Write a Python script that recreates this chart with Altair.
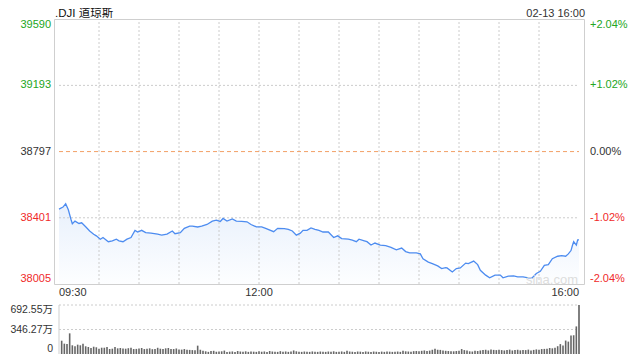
import altair as alt
import pandas as pd

# ---- data ----
minutes = [0, 3, 5, 7, 9, 10, 12, 15, 17, 20, 23, 26, 28, 31, 33, 37, 40, 43, 45, 48,
           51, 54, 57, 59, 62, 65, 69, 74, 77, 81, 85, 87, 91, 94, 98, 100, 104, 107, 111, 115,
           118, 121, 123, 126, 130, 133, 137, 141, 144, 148, 152, 155, 161, 164, 169, 172, 175, 178, 181, 183,
           186, 189, 192, 195, 198, 202, 206, 209, 212, 217, 220, 223, 225, 229, 231, 234, 237, 241, 245, 249,
           253, 257, 260, 263, 268, 271, 273, 277, 280, 284, 287, 290, 291, 295, 298, 301, 305, 307, 311, 314,
           316, 320, 323, 327, 331, 333, 337, 341, 344, 348, 352, 355, 358, 361, 364, 367, 370, 374, 377, 380,
           382, 384, 385, 386, 388, 389, 390]
prices = [38453, 38465, 38485, 38449, 38391, 38365, 38381, 38367, 38371, 38347, 38322, 38303, 38293, 38273, 38283, 38258, 38263, 38273, 38263, 38258,
          38273, 38283, 38326, 38316, 38326, 38312, 38309, 38303, 38297, 38303, 38322, 38306, 38312, 38338, 38351, 38351, 38346, 38351, 38361, 38381,
          38387, 38379, 38397, 38381, 38394, 38381, 38379, 38377, 38361, 38347, 38347, 38338, 38318, 38338, 38336, 38332, 38322, 38297, 38309, 38326,
          38326, 38340, 38332, 38326, 38316, 38316, 38283, 38293, 38277, 38273, 38267, 38258, 38273, 38263, 38258, 38238, 38250, 38238, 38234, 38224,
          38209, 38220, 38199, 38191, 38191, 38185, 38156, 38136, 38127, 38113, 38097, 38103, 38101, 38077, 38097, 38101, 38130, 38127, 38142, 38121,
          38087, 38058, 38042, 38058, 38058, 38042, 38052, 38054, 38048, 38048, 38042, 38042, 38068, 38081, 38117, 38121, 38156, 38171, 38175, 38171,
          38185, 38205, 38234, 38258, 38238, 38269, 38269]

volumes = [188, 146, 141, 292, 123, 109, 132, 123, 146, 109, 99, 85, 103, 95, 75, 89, 89, 99, 71, 75,
           99, 80, 85, 78, 75, 82, 90, 70, 72, 78, 85, 70, 75, 80, 68, 72, 88, 75, 70, 80,
           85, 72, 70, 78, 65, 62, 70, 60, 58, 55, 52, 118,
           60, 45, 38, 30, 42, 45, 32, 35, 38, 48, 30, 33, 36, 30, 42, 35, 32, 38, 30, 35, 33, 30, 38, 32,
           36, 30, 42, 35, 33, 30, 40, 32, 36, 30, 35, 50, 38, 32, 30, 35, 33, 30, 36, 32, 30, 35,
           32, 30, 35, 33, 38, 30, 32, 36, 30, 45, 35, 32, 30, 35, 33, 30, 36, 32, 30, 35, 32, 30, 34, 30,
           36, 33, 30, 32, 35, 30, 45, 38, 35, 33, 40, 42, 38, 45, 50, 42, 48, 60,
           75, 60, 58, 50, 45, 42, 40, 38, 42, 45, 70, 55, 50, 38, 35, 45, 42, 50, 55, 60, 50, 65, 58, 55, 60,
           55, 50, 58, 62, 50, 55, 60, 52, 58, 55, 62, 50, 58, 65, 60, 70, 72, 75, 85, 80,
           90, 110, 140, 120, 190, 175, 260, 265, 390, 692.55]

price_ticks = [39590, 39193, 38797, 38401, 38005]
price_labels = ["39590", "39193", "38797", "38401", "38005"]
pct_labels = ["+2.04%", "+1.02%", "0.00%", "-1.02%", "-2.04%"]
tick_colors = ["#22a622", "#22a622", "#333333", "#f02a2a", "#f02a2a"]
grid_minutes = [30, 60, 90, 120, 150, 180, 210, 240, 270, 300, 330, 360]
time_ticks = [0, 150, 390]
time_labels = ["09:30", "12:00", "16:00"]
time_align = ["left", "center", "right"]
vol_ticks = [692.55, 346.27, 0]
vol_labels = ["692.55万", "346.27万", "0"]
prev_close = 38797
title_text = ".DJI 道琼斯"
date_text = "02-13 16:00"

FONT = "Liberation Sans, 'Noto Sans CJK SC', sans-serif"
P_DOM = [38005, 39590]
V_DOM = [0, 692.55]
V_RANGE = [335, 286]

HIDE = alt.Axis(labels=False, ticks=False, domain=False, grid=False, title=None)
xs = alt.Scale(domain=[0, 390], nice=False, zero=False)
ys = alt.Scale(domain=P_DOM, nice=False, zero=False)
vs = alt.Scale(domain=V_DOM, range=V_RANGE, nice=False, zero=False)

def X(f):
    return alt.X(f, scale=xs, axis=HIDE)

def YP(f):
    return alt.Y(f, scale=ys, axis=HIDE)

def YV(f):
    return alt.Y(f, scale=vs, axis=HIDE)

price_df = pd.DataFrame({"minute": minutes, "price": prices})
vol_n = len(volumes)
vol_df = pd.DataFrame({"minute": [390 - 2 * (vol_n - 1 - i) for i in range(vol_n)], "vol": volumes})
vol_df["base"] = 0
ticks_df = pd.DataFrame({"price": price_ticks, "label": price_labels, "pct": pct_labels, "color": tick_colors})
grid_df = pd.DataFrame({"minute": grid_minutes, "price": [P_DOM[0]] * len(grid_minutes), "top": [P_DOM[1]] * len(grid_minutes)})
hgrid_df = pd.DataFrame({"price": [39193, 38401], "minute": [0, 0], "end": [390, 390]})
time_df = pd.DataFrame({"minute": time_ticks, "label": time_labels, "align": time_align})

# ---- main price panel ----
vgrid = alt.Chart(grid_df).mark_rule(color="#cccccc", strokeDash=[2, 2], strokeWidth=1).encode(
    x=X("minute:Q"), y=YP("price:Q"), y2="top:Q")
hgrid = alt.Chart(hgrid_df).mark_rule(color="#cccccc", strokeDash=[2, 2], strokeWidth=1).encode(
    x=X("minute:Q"), x2="end:Q", y=YP("price:Q"))
prev_rule = alt.Chart(pd.DataFrame({"price": [prev_close], "minute": [0], "end": [390]})).mark_rule(
    color="#f2a066", strokeDash=[4, 3], strokeWidth=1).encode(x=X("minute:Q"), x2="end:Q", y=YP("price:Q"))

area = alt.Chart(price_df).mark_area(
    color=alt.Gradient(gradient="linear",
                       stops=[alt.GradientStop(color="#fdfeff", offset=0),
                              alt.GradientStop(color="#e8f0fc", offset=1)],
                       x1=1, x2=1, y1=1, y2=0)).encode(
    x=X("minute:Q"), y=YP("price:Q"), y2=alt.datum(P_DOM[0]))
line = alt.Chart(price_df).mark_line(color="#4d8cf0", strokeWidth=1.3).encode(
    x=X("minute:Q"), y=YP("price:Q"))

def side_labels(field, xpix, align):
    base = alt.Chart(ticks_df)
    out = []
    for cond, bl in [("datum.price == 39590", "top"),
                     ("datum.price == 38005", "bottom"),
                     ("datum.price != 39590 && datum.price != 38005", "middle")]:
        out.append(base.transform_filter(cond).mark_text(
            align=align, baseline=bl, font=FONT, fontSize=11).encode(
            x=alt.value(xpix),
            y=YP("price:Q"),
            text=f"{field}:N",
            color=alt.Color("color:N", scale=None)))
    return out

left_labels = side_labels("label", -3, "right")
right_labels = side_labels("pct", 536, "left")

time_text = []
for a in ["left", "center", "right"]:
    time_text.append(alt.Chart(time_df).transform_filter(f"datum.align == '{a}'").mark_text(
        align=a, baseline="middle", font=FONT, fontSize=11, color="#333333").encode(
        x=X("minute:Q"), y=alt.value(274), text="label:N"))

title = alt.Chart(pd.DataFrame({"t": [title_text]})).mark_text(
    align="left", baseline="alphabetic", font=FONT, fontSize=11.5, color="#111111").encode(
    x=alt.value(1), y=alt.value(-2), text="t:N")
date = alt.Chart(pd.DataFrame({"t": [date_text]})).mark_text(
    align="right", baseline="alphabetic", font=FONT, fontSize=11, color="#333333").encode(
    x=alt.value(531), y=alt.value(-2), text="t:N")
watermark = alt.Chart(pd.DataFrame({"t": ["sina.com"]})).mark_text(
    align="center", baseline="middle", font=FONT, fontSize=13, color="#dddddd").encode(
    x=alt.value(498), y=alt.value(261), text="t:N")

main = alt.layer(area, vgrid, hgrid, prev_rule, line, watermark, title, date,
                 *left_labels, *right_labels, *time_text)

# ---- volume panel ----
vgrid_df = pd.DataFrame({"vol": [692.55, 346.27], "minute": [0, 0], "end": [390, 390]})
vol_grid = alt.Chart(vgrid_df).mark_rule(color="#cccccc", strokeDash=[2, 2], strokeWidth=1).encode(
    x=X("minute:Q"), x2="end:Q", y=YV("vol:Q"))
vol_edges = alt.Chart(pd.DataFrame({"minute": [0, 390], "vol": [0, 0], "top": [692.55, 692.55]})).mark_rule(
    color="#cfcfcf", strokeWidth=1).encode(x=X("minute:Q"), y=YV("vol:Q"), y2="top:Q")
bars = alt.Chart(vol_df).mark_bar(color="#666666", width=1.6).encode(
    x=X("minute:Q"), y=YV("vol:Q"), y2="base:Q")
vlab_df = pd.DataFrame({"vol": vol_ticks, "label": vol_labels})
vol_text = []
for cond, bl in [("datum.vol == 692.55", "top"), ("datum.vol == 346.27", "middle"), ("datum.vol == 0", "bottom")]:
    vol_text.append(alt.Chart(vlab_df).transform_filter(cond).mark_text(
        align="right", baseline=bl, font=FONT, fontSize=10.5, color="#333333").encode(
        x=alt.value(-1), y=YV("vol:Q"), text="label:N"))

vol = alt.layer(vol_grid, vol_edges, bars, *vol_text)

chart = alt.layer(main, vol).resolve_scale(y="independent").properties(
    width=530, height=265,
    autosize=alt.AutoSizeParams(type="none"),
    padding={"left": 46, "top": 11, "right": 48, "bottom": 76},
).configure_view(stroke="#cfcfcf", strokeWidth=1)

chart.save("out.html", embed_options={"renderer": "svg", "actions": False})
